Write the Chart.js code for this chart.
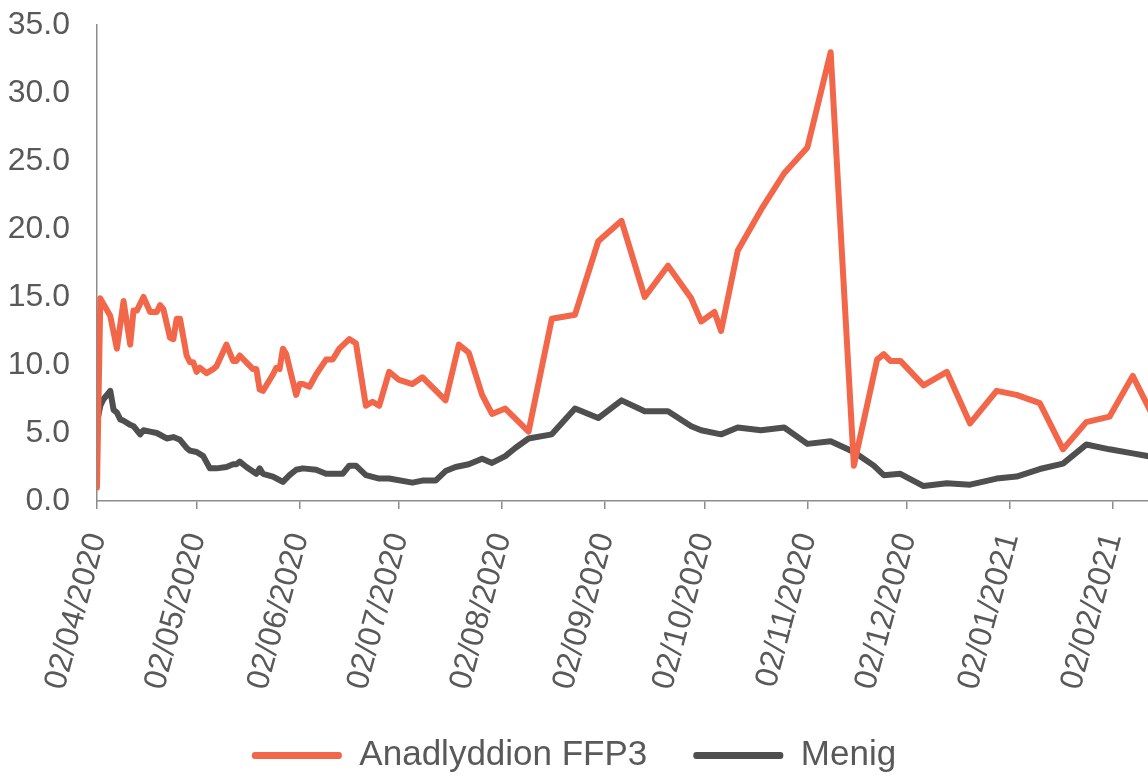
<!DOCTYPE html>
<html>
<head>
<meta charset="utf-8">
<script src="https://cdn.jsdelivr.net/npm/chart.js@4.4.1/dist/chart.umd.min.js"></script>
<style>
  html, body { margin: 0; background: #fff; }
  #wrap { width: 1148px; height: 776px; }
</style>
</head>
<body>
<div id="wrap"><canvas id="chart"></canvas></div>
<script>
// Days counted from 02/04/2020
const START = Date.UTC(2020, 3, 2);
const tickLabels = ["02/04/2020", "02/05/2020", "02/06/2020", "02/07/2020", "02/08/2020", "02/09/2020",
  "02/10/2020", "02/11/2020", "02/12/2020", "02/01/2021", "02/02/2021"];

const ffp3Days = [0, 1, 4, 6, 8, 10, 11, 12, 14, 16, 18, 19, 20, 22, 23, 24, 25, 27, 28, 29, 30, 31, 33, 35, 36,
  39, 41, 42, 43, 45, 47, 48, 49, 50, 53, 54, 55, 56, 57, 60, 61, 62, 64, 66, 69, 71, 73, 76, 78, 81, 83, 85,
  88, 91, 95, 98, 105, 109, 112, 116, 119, 123, 130, 137, 144, 151, 158, 165, 172, 179, 182, 186, 188, 193,
  200, 207, 214, 221, 228, 235, 237, 239, 242, 249, 256, 263, 271, 277, 284, 291, 298, 305, 312, 319];
const ffp3Values = [1.0, 14.9, 13.6, 11.2, 14.7, 11.5, 14.0, 14.0, 15.0, 13.9, 13.9, 14.4, 14.1, 12.0, 11.9, 13.4,
  13.4, 10.7, 10.2, 10.2, 9.5, 9.8, 9.4, 9.7, 9.9, 11.5, 10.3, 10.3, 10.7, 10.2, 9.7, 9.7, 8.2, 8.1, 9.3, 9.8,
  9.7, 11.2, 10.8, 7.8, 8.6, 8.6, 8.4, 9.3, 10.4, 10.4, 11.2, 11.9, 11.6, 7.0, 7.3, 7.0, 9.5, 8.9, 8.6, 9.1,
  7.4, 11.5, 10.9, 7.8, 6.4, 6.8, 5.1, 13.4, 13.7, 19.1, 20.6, 15.0, 17.3, 14.9, 13.2, 13.9, 12.5, 18.4,
  21.4, 24.1, 26.0, 33.0, 2.6, 10.4, 10.8, 10.3, 10.3, 8.5, 9.5, 5.7, 8.1, 7.8, 7.2, 3.8, 5.8, 6.2, 9.2, 5.8];

const menigDays = [0, 1, 2, 4, 5, 6, 7, 8, 10, 11, 13, 14, 16, 18, 21, 23, 25, 27, 28, 30, 32, 34, 36, 39, 41, 42,
  43, 45, 48, 49, 50, 53, 56, 58, 60, 62, 66, 69, 74, 76, 78, 81, 85, 88, 95, 98, 102, 105, 108, 112, 116,
  119, 123, 126, 130, 137, 144, 151, 158, 165, 172, 179, 182, 188, 193, 200, 207, 214, 221, 228, 234, 237,
  242, 249, 256, 263, 271, 277, 284, 291, 298, 305, 312, 319];
const menigValues = [5.8, 7.0, 7.5, 8.1, 6.7, 6.5, 6.0, 5.9, 5.6, 5.5, 4.9, 5.2, 5.1, 5.0, 4.6, 4.7, 4.5, 3.9, 3.7,
  3.6, 3.3, 2.4, 2.4, 2.5, 2.7, 2.7, 2.9, 2.5, 2.0, 2.4, 2.0, 1.8, 1.4, 1.9, 2.3, 2.4, 2.3, 2.0, 2.0, 2.6, 2.6,
  1.9, 1.65, 1.65, 1.35, 1.5, 1.5, 2.2, 2.5, 2.7, 3.1, 2.8, 3.3, 3.9, 4.6, 4.9, 6.8, 6.1, 7.4, 6.6, 6.6, 5.5,
  5.2, 4.9, 5.4, 5.2, 5.4, 4.2, 4.4, 3.6, 2.6, 1.9, 2.0, 1.1, 1.3, 1.2, 1.65, 1.8, 2.35, 2.75, 4.15, 3.8, 3.5, 3.2];

const ORANGE = "#f2674a";
const GREY = "#4f4f4f";
const TEXT = "#595959";
const AXIS = "#8c8c8c";

const dayOf = (s) => { const [d, m, y] = s.split("/").map(Number); return (Date.UTC(y, m - 1, d) - START) / 86400000; };
const tickDays = tickLabels.map(dayOf);
const pts = (xs, ys) => xs.map((x, i) => ({ x, y: ys[i] }));

Chart.defaults.font.family = "'Liberation Sans', Arial, sans-serif";
Chart.defaults.color = TEXT;

new Chart(document.getElementById("chart"), {
  type: "line",
  data: {
    datasets: [
      { label: "Anadlyddion FFP3", data: pts(ffp3Days, ffp3Values), borderColor: ORANGE, backgroundColor: ORANGE },
      { label: "Menig", data: pts(menigDays, menigValues), borderColor: GREY, backgroundColor: GREY },
    ],
  },
  options: {
    responsive: true, maintainAspectRatio: false, animation: false,
    layout: { padding: { top: 25, left: 0, right: 0, bottom: -7 } },
    elements: {
      line: { borderWidth: 6, tension: 0, borderJoinStyle: "round", borderCapStyle: "round" },
      point: { radius: 0, hoverRadius: 0 },
    },
    plugins: {
      tooltip: { enabled: false },
      legend: {
        position: "bottom",
        labels: {
          font: { size: 35 }, color: TEXT, boxWidth: 90, boxHeight: 7, padding: 46,
          useBorderRadius: true, borderRadius: 3,
          generateLabels: (chart) => chart.data.datasets.map((ds, i) => ({
            text: ds.label, fillStyle: ds.borderColor, strokeStyle: ds.borderColor, lineWidth: 0,
            fontColor: TEXT, hidden: false, datasetIndex: i, borderRadius: 3,
          })),
        },
      },
    },
    scales: {
      x: {
        type: "linear", min: 0, max: 316.6,
        afterBuildTicks: (s) => { s.ticks = tickDays.map((v) => ({ value: v })); },
        afterFit: (s) => { s.height = 191; s.paddingLeft = 0; s.paddingRight = 0; },
        grid: { display: true, drawOnChartArea: false, drawTicks: true, tickLength: 8, color: AXIS, lineWidth: 1.5 },
        border: { display: true, color: AXIS, width: 1.5 },
        ticks: {
          autoSkip: false, minRotation: 75, maxRotation: 75, padding: 20, color: TEXT, font: { size: 32 },
          callback: (v) => { const i = tickDays.indexOf(v); return i >= 0 ? tickLabels[i] : ""; },
        },
      },
      y: {
        min: 0, max: 35,
        afterFit: (s) => { s.width = 97; s.paddingTop = 0; s.paddingBottom = 0; },
        grid: { display: false, drawTicks: false },
        border: { display: true, color: AXIS, width: 1.5 },
        ticks: { stepSize: 5, padding: 27, color: TEXT, font: { size: 32 }, callback: (v) => v.toFixed(1) },
      },
    },
  },
});
</script>
</body>
</html>
